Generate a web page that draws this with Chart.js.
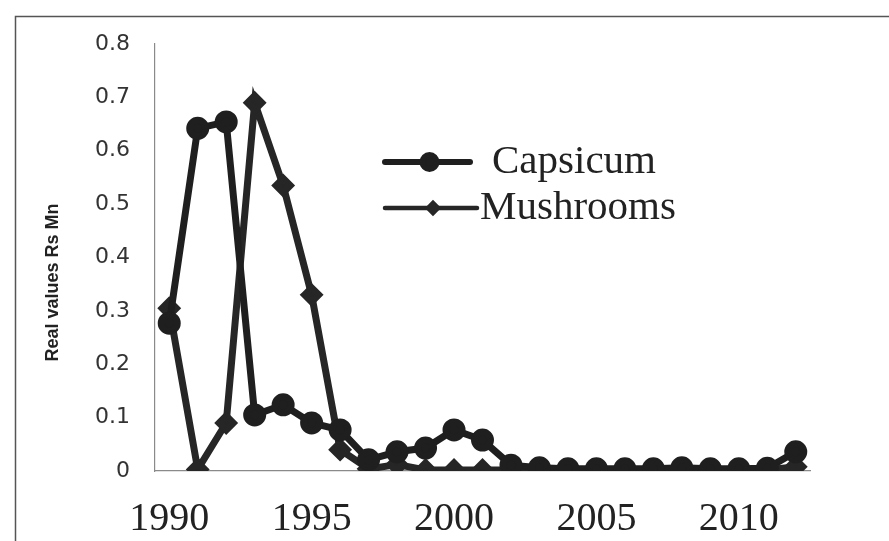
<!DOCTYPE html>
<html>
<head>
<meta charset="utf-8">
<script src="https://cdn.jsdelivr.net/npm/chart.js@4/dist/chart.umd.min.js"></script>
<style>
  html, body { margin: 0; padding: 0; background: #fff; }
  #wrap { width: 889px; height: 541px; position: relative; }
</style>
</head>
<body>
<div id="wrap"><canvas id="c" width="889" height="541"></canvas></div>
<script>
const years = ['1990','1991','1992','1993','1994','1995','1996','1997','1998','1999','2000','2001','2002','2003','2004','2005','2006','2007','2008','2009','2010','2011','2012'];
const capsicum = [0.277,0.642,0.654,0.105,0.124,0.090,0.077,0.021,0.036,0.043,0.077,0.058,0.011,0.006,0.004,0.004,0.004,0.004,0.006,0.004,0.004,0.005,0.036];
const mushrooms = [0.305,0.003,0.090,0.690,0.535,0.330,0.040,0.004,0.012,0.002,0.002,0.002,0.002,0.002,0.002,0.002,0.002,0.002,0.002,0.002,0.002,0.002,0.008];
const yTicks = [0, 0.1, 0.2, 0.3, 0.4, 0.5, 0.6, 0.7, 0.8];
const seriesNames = ['Capsicum', 'Mushrooms'];
const yTitle = 'Real values Rs Mn';

const framePlugin = {
  id: 'frame',
  beforeDraw(chart) {
    const ctx = chart.ctx;
    ctx.save();
    ctx.fillStyle = '#fff';
    ctx.fillRect(0, 0, chart.width, chart.height);
    ctx.strokeStyle = '#555';
    ctx.lineWidth = 1.5;
    ctx.beginPath();
    ctx.moveTo(15.5, chart.height);
    ctx.lineTo(15.5, 16.5);
    ctx.lineTo(chart.width, 16.5);
    ctx.stroke();
    ctx.restore();
  }
};

const legendPlugin = {
  id: 'customLegend',
  afterDraw(chart) {
    const ctx = chart.ctx;
    const items = [
      { y: 162, x0: 385, x1: 470, tx: 492, lw: 6 },
      { y: 208, x0: 385, x1: 477, tx: 480, lw: 4.5 }
    ];
    ctx.save();
    chart.data.datasets.forEach((ds, i) => {
      const it = items[i];
      ctx.strokeStyle = ds.borderColor;
      ctx.lineWidth = it.lw;
      ctx.lineCap = 'round';
      ctx.beginPath();
      ctx.moveTo(it.x0, it.y);
      ctx.lineTo(it.x1, it.y);
      ctx.stroke();
      ctx.fillStyle = ds.pointBackgroundColor;
      ctx.strokeStyle = ds.pointBorderColor;
      Chart.helpers.drawPoint(ctx, {
        pointStyle: ds.pointStyle,
        radius: i === 0 ? 7 : 5,
        borderWidth: 1
      }, (it.x0 + it.x1) / 2 + 2, it.y);
      ctx.fillStyle = '#222';
      ctx.font = '41px "Liberation Serif"';
      ctx.textBaseline = 'middle';
      ctx.textAlign = 'left';
      ctx.fillText(ds.label, it.tx, it.y);
    });
    ctx.restore();
  }
};

new Chart(document.getElementById('c'), {
  type: 'line',
  data: {
    labels: years,
    datasets: [
      {
        label: seriesNames[0],
        data: capsicum,
        borderColor: '#1f1f1f',
        backgroundColor: '#1f1f1f',
        pointBackgroundColor: '#1f1f1f',
        pointBorderColor: '#1f1f1f',
        borderWidth: 7,
        pointStyle: 'circle',
        pointRadius: 8,
        tension: 0
      },
      {
        label: seriesNames[1],
        data: mushrooms,
        borderColor: '#262626',
        backgroundColor: '#262626',
        pointBackgroundColor: '#262626',
        pointBorderColor: '#262626',
        borderWidth: 7,
        pointStyle: 'rectRot',
        pointRadius: 7,
        tension: 0
      }
    ]
  },
  options: {
    responsive: false,
    animation: false,
    devicePixelRatio: 1,
    layout: { padding: { left: 0, right: 79, top: 44, bottom: 0 } },
    plugins: {
      legend: { display: false },
      tooltip: { enabled: false }
    },
    scales: {
      x: {
        type: 'category',
        offset: true,
        grid: { display: false, drawTicks: false },
        border: { display: true, color: '#8a8a8a', width: 1.2 },
        ticks: {
          autoSkip: false,
          maxRotation: 0,
          minRotation: 0,
          padding: 24,
          color: '#222',
          font: { family: 'Liberation Serif', size: 40 },
          callback: function(v, i) {
            const lab = this.getLabelForValue(v);
            return (parseInt(lab) % 5 === 0) ? lab : '';
          }
        },
        afterFit(scale) { scale.height = 70; }
      },
      y: {
        min: 0,
        max: 0.8,
        grid: { display: false, drawTicks: false },
        border: { display: true, color: '#8a8a8a', width: 1.2 },
        afterBuildTicks(scale) { scale.ticks = yTicks.map(v => ({ value: v })); },
        ticks: {
          padding: 25,
          color: '#333',
          font: { family: 'DejaVu Sans', size: 22 },
          callback: v => (v === 0 ? '0' : v.toFixed(1))
        },
        title: {
          display: true,
          text: yTitle + '          ',
          color: '#222',
          font: { family: 'Liberation Sans', size: 18, weight: 'bold' },
          padding: { top: 42, bottom: 0 }
        },
        afterFit(scale) { scale.width = 155; }
      }
    }
  },
  plugins: [framePlugin, legendPlugin]
});
</script>
</body>
</html>
